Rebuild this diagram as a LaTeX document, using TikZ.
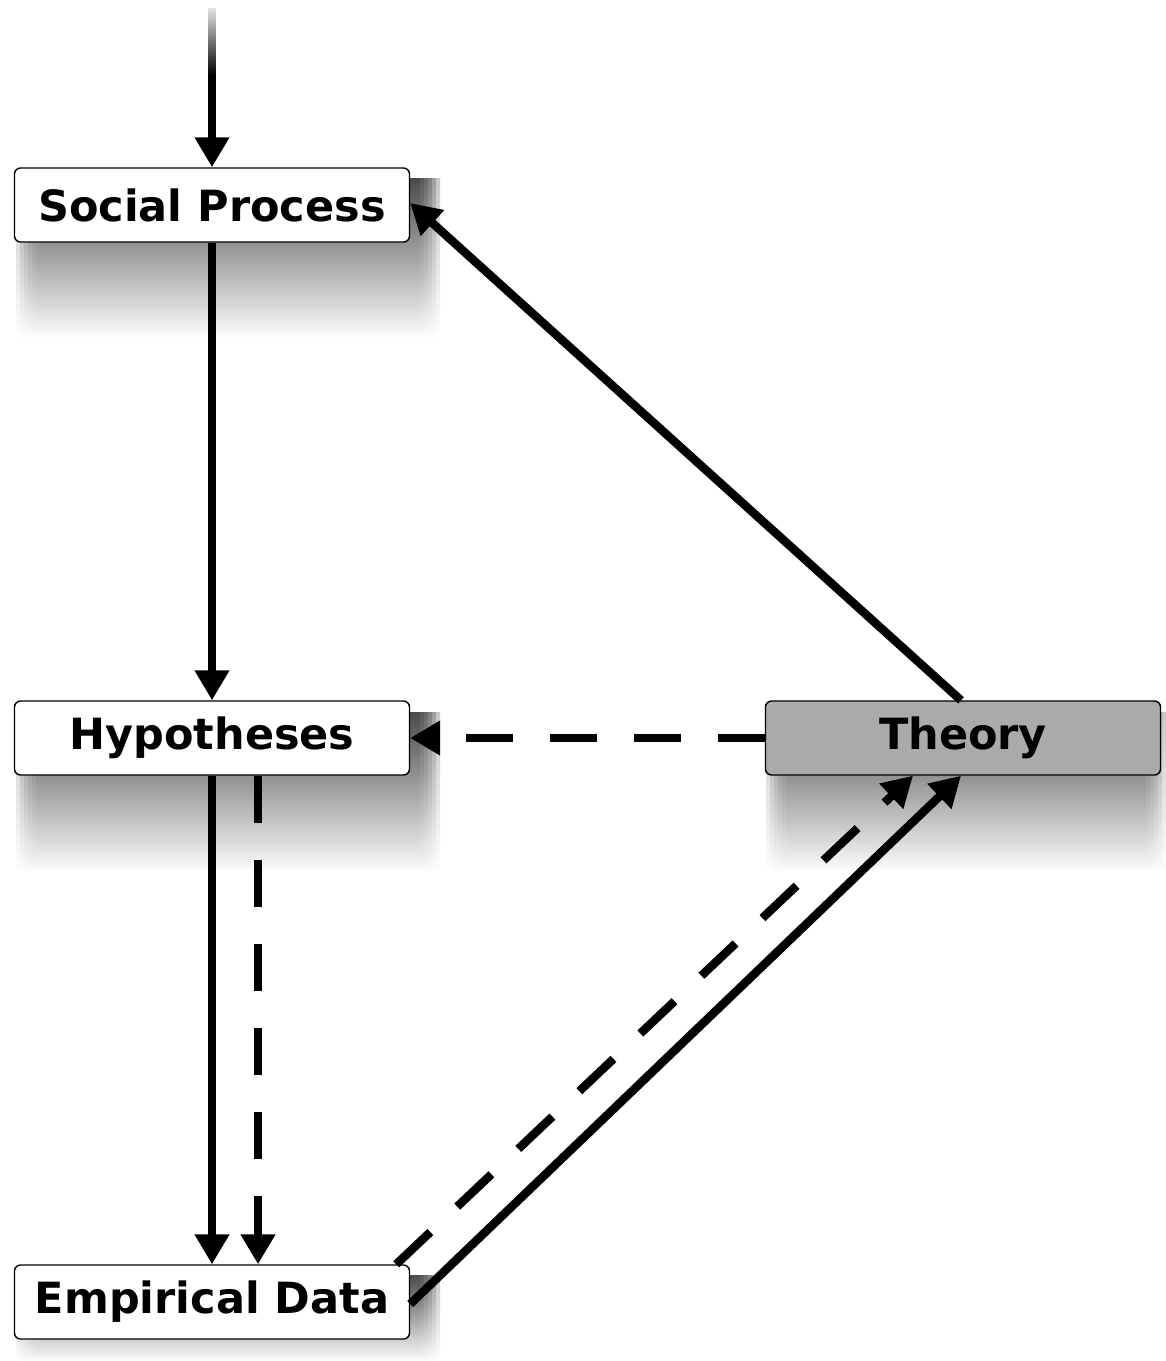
\documentclass[tikz,border=0pt]{standalone}
\usepackage{fontspec}
\setmainfont{DejaVu Sans}
\usetikzlibrary{arrows.meta,fadings,shadings}
\definecolor{theorygray}{RGB}{170,170,170}
\tikzfading[name=whitetop, top color=transparent!0, bottom color=transparent!100]
\newcommand\mkshadow[4]{%
  \foreach \i in {0,...,5}{%
    \shade[top color=black!85, middle color=black!70, bottom color=white, opacity=0.25]
      ({#1+\i*4},#2) rectangle ({#3-\i*4},#4);
  }%
}
\tikzset{
  box/.style={draw, rounded corners=6pt, line width=1.4pt, fill=white,
    minimum width=395pt, minimum height=74pt, inner sep=0pt,
    font=\fontsize{43}{52}\selectfont\bfseries},
  conn/.style={line width=8.5pt, -{Triangle[length=30pt,width=33pt]}},
  dconn/.style={conn, dash pattern=on 47pt off 37pt}
}
\begin{document}
\begin{tikzpicture}[x=1pt,y=-1pt]
\useasboundingbox[fill=white] (0,0) rectangle (1166,1361);
% shadows
\mkshadow{16}{178}{440}{338}
\mkshadow{16}{712}{440}{872}
\mkshadow{766}{712}{1166}{872}
\mkshadow{16}{1275}{440}{1361}
% nodes
\node[box] (sp) at (212,205) {Social Process};
\node[box] (hyp) at (212,738) {Hypotheses};
\node[box, fill=theorygray] (th) at (963,738) {Theory};
\node[box] (ed) at (212,1302) {Empirical Data};
\coordinate (top) at (212,8);
% connectors
\draw[conn] (top) -- (sp.north);
\fill[white, path fading=whitetop] (196,0) rectangle (228,75);
\draw[conn] (sp.south) -- (hyp.north);
\draw[conn] ([xshift=-2pt]th.north) -- ([yshift=2pt]sp.east);
\draw[dconn] (th.west) -- (hyp.east);
\draw[conn] (hyp.south) -- (ed.north);
\draw[dconn] ([xshift=46pt]hyp.south) -- ([xshift=46pt]ed.north);
\draw[dconn] ([xshift=-14pt]ed.north east) -- ([xshift=-50pt]th.south);
\draw[conn] ([yshift=-2pt]ed.east) -- ([xshift=-2pt]th.south);
\end{tikzpicture}
\end{document}
